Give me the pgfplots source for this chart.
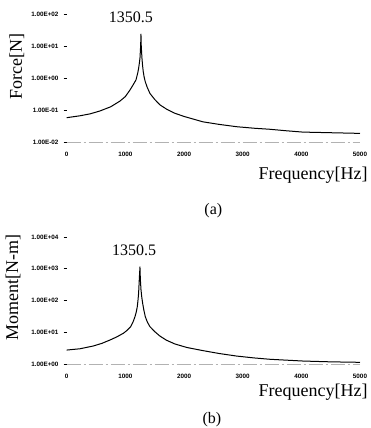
\documentclass[border=0pt]{standalone}
\usepackage{fontspec}
\setmainfont{Liberation Serif}
\newfontfamily\tickfont{Liberation Sans}
\usepackage{pgfplots}
\pgfplotsset{compat=1.18}
\pgfplotsset{
 myax/.style={
  scale only axis, width=293.3pt, xmin=0, xmax=5000,
  axis x line*=bottom, axis y line*=left,
  y axis line style={draw=none},
  x axis line style={gray!60, line width=0.6pt, dash pattern=on 14pt off 3pt on 2pt off 3pt},
  xtick={0,1000,2000,3000,4000,5000},
  xticklabels={0,1000,2000,3000,4000,5000},
  xtick style={draw=none},
  ytick style={black, line width=0.5pt},
  tick align=outside, major tick length=3pt,
  yminorticks=false,
  tick label style={font=\tickfont\bfseries\fontsize{6.3}{6.3}\selectfont, inner sep=0pt},
  xticklabel shift=7pt,
  yticklabel shift=5pt,
  clip=false,
  label style={font=\fontsize{18}{18}\selectfont},
 }
}
\begin{document}
\begin{tikzpicture}
\path[use as bounding box] (0,0) rectangle (370pt,-428pt);
\begin{axis}[ymode=log, myax, at={(66.7pt,-142pt)}, anchor=south west, height=128pt,
  ymin=0.01, ymax=100, ytick={0.01,0.1,1,10,100},
  yticklabels={1.00E-02,1.00E-01,1.00E+00,1.00E+01,1.00E+02},
  ylabel={Force[N]}, ylabel style={at={(axis description cs:-0.17,0.59)}, anchor=center},
  xlabel={Frequency[Hz]}, xlabel style={at={(axis description cs:0.84,-0.26)}, anchor=center}]
\addplot[black, line width=1pt, line join=round] coordinates {
(0,0.0575) (227,0.066) (400,0.0759) (567,0.0933) (750,0.126) (908,0.19) (1000,0.263)
(1078,0.42) (1130,0.60) (1181,0.87) (1210,1.41) (1226,2.0) (1240,3.02) (1249,4.17)
(1256,7.08) (1261,10.7) (1266,23.4) (1271,10) (1277,6.3) (1283,4.17) (1293,2.51)
(1305,1.58) (1320,1.07) (1340,0.76) (1370,0.525) (1419,0.33) (1500,0.214) (1589,0.145)
(1700,0.107) (1845,0.079) (2000,0.063) (2322,0.0427) (2600,0.0355) (2901,0.030)
(3200,0.0269) (3463,0.025) (3750,0.0224) (4026,0.0204) (4500,0.0195) (5000,0.0186)};
\node[font=\fontsize{16}{16}\selectfont] at (rel axis cs:0.219,0.977) {1350.5};
\node[font=\fontsize{16}{16}\selectfont] at (rel axis cs:0.50,-0.54) {(a)};
\end{axis}
\begin{axis}[ymode=log, myax, at={(66.7pt,-364pt)}, anchor=south west, height=127pt,
  ymin=1, ymax=10000, ytick={1,10,100,1000,10000},
  yticklabels={1.00E+00,1.00E+01,1.00E+02,1.00E+03,1.00E+04},
  ylabel={Moment[N-m]}, ylabel style={at={(axis description cs:-0.183,0.6)}, anchor=center},
  xlabel={Frequency[Hz]}, xlabel style={at={(axis description cs:0.84,-0.22)}, anchor=center}]
\addplot[black, line width=1pt, line join=round] coordinates {
(0,2.75) (227,3.02) (453,3.69) (600,4.47) (738,5.70) (850,7.08) (965,9.25) (1030,11.5)
(1090,15.0) (1130,20.9) (1164,30.9) (1185,42.7) (1203,63.1) (1215,100) (1226,170)
(1237,447) (1249,1148) (1252,708) (1258,398) (1266,224) (1280,126) (1295,81.3)
(1315,50.1) (1340,30.9) (1375,20.9) (1419,15.0) (1500,10.5) (1589,7.59) (1700,5.62)
(1845,4.27) (2050,3.31) (2327,2.63) (2600,2.14) (2896,1.78) (3200,1.55) (3463,1.41)
(3750,1.32) (4031,1.24) (4500,1.17) (5000,1.13)};
\node[font=\fontsize{16}{16}\selectfont] at (rel axis cs:0.23,0.898) {1350.5};
\node[font=\fontsize{16}{16}\selectfont] at (rel axis cs:0.495,-0.44) {(b)};
\end{axis}
\end{tikzpicture}
\end{document}
